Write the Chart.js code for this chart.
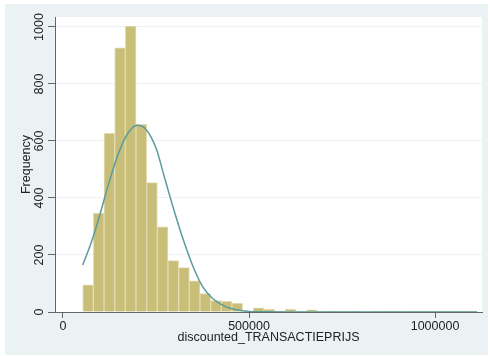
<!DOCTYPE html>
<html>
<head>
<meta charset="utf-8">
<script src="https://cdn.jsdelivr.net/npm/chart.js@4.4.0/dist/chart.umd.min.js"></script>
<style>
  html, body { margin: 0; padding: 0; background: #fff; }
  #wrap { width: 490px; height: 356px; }
</style>
</head>
<body>
<div id="wrap"><canvas id="hist" width="490" height="356"></canvas></div>
<script>
// Histogram bins (counts)
const binStart = 53000;
const binWidth = 28650;
const binCounts = [95, 347, 627, 927, 1003, 658, 454, 299, 180, 156, 109, 65, 40, 37, 30,
  3, 15, 9, 3, 9, 2, 8, 2, 1, 2, 1, 0, 1, 1, 1, 1, 3, 1, 3, 1, 3, 3];

// Normal density overlay, heights read at these prices
const curveX = [53000, 75000, 100000, 125000, 150000, 175000, 200000, 225000, 250000, 275000,
  300000, 325000, 350000, 375000, 400000, 425000, 450000, 475000, 500000, 550000,
  600000, 700000, 800000, 900000, 1000000, 1113000];
const curveY = [165, 240, 345, 460, 560, 628, 655, 638, 575, 462,
  350, 247, 158, 90, 50, 27, 13, 6, 2, 0.5,
  0, 0, 0, 0, 0, 0];

const xTicks = [0, 500000, 1000000];
const yTicks = [0, 200, 400, 600, 800, 1000];
const xTitle = 'discounted_TRANSACTIEPRIJS';
const yTitle = 'Frequency';

const colors = {
  outer: '#eaf2f3',
  plot: '#ffffff',
  bar: 'rgb(200,190,120)',
  barEdge: '#e3dcb0',
  curve: '#5c9c9a',
  axis: '#666666',
  grid: '#edf3f4',
  text: '#222222'
};
const font = { family: "'Liberation Sans', Arial, sans-serif", size: 12.5 };

const barData = binCounts.map((c, i) => ({ x: binStart + binWidth * (i + 0.5), y: c }));
const curveData = curveX.map((x, i) => ({ x: x, y: curveY[i] }));

// Stata-style backdrop: light graph region, white plot region
const backdrop = {
  id: 'backdrop',
  beforeDraw(chart) {
    const ctx = chart.ctx;
    const a = chart.chartArea;
    ctx.save();
    ctx.fillStyle = '#ffffff';
    ctx.fillRect(0, 0, chart.width, chart.height);
    ctx.fillStyle = colors.outer;
    ctx.fillRect(5, 4, 483, 351);
    ctx.fillStyle = colors.plot;
    ctx.fillRect(a.left, a.top, a.right - a.left, a.bottom - a.top);
    ctx.restore();
  }
};

new Chart(document.getElementById('hist'), {
  type: 'bar',
  data: {
    datasets: [
      {
        type: 'line',
        data: curveData,
        borderColor: colors.curve,
        borderWidth: 1.5,
        pointRadius: 0,
        cubicInterpolationMode: 'monotone',
        fill: false,
        order: 0
      },
      {
        data: barData,
        backgroundColor: colors.bar,
        borderColor: colors.barEdge,
        borderWidth: 1,
        barPercentage: 1,
        categoryPercentage: 1,
        order: 1
      }
    ]
  },
  options: {
    responsive: false,
    animation: false,
    layout: { padding: { top: 17, right: 8, left: 0, bottom: 0 } },
    plugins: {
      legend: { display: false },
      tooltip: { enabled: false }
    },
    scales: {
      x: {
        type: 'linear',
        offset: false,
        min: -21500,
        max: 1126300,
        afterBuildTicks: (s) => { s.ticks = xTicks.map(v => ({ value: v })); },
        afterFit: (s) => { s.height = 44; },
        grid: { display: true, offset: false, drawOnChartArea: false, tickLength: 6, tickColor: colors.axis },
        border: { display: true, color: colors.axis, width: 1 },
        ticks: { color: colors.text, font: font, padding: 1, maxRotation: 0, autoSkip: false,
          callback: (v) => String(v) },
        title: { display: true, text: xTitle, color: colors.text, font: font,
          padding: { top: 0, bottom: 11 } }
      },
      y: {
        min: 0,
        max: 1035,
        afterBuildTicks: (s) => { s.ticks = yTicks.map(v => ({ value: v })); },
        afterFit: (s) => { s.width = 55; },
        grid: { color: colors.grid, tickLength: 7, tickColor: colors.axis },
        border: { display: true, color: colors.axis, width: 1 },
        ticks: { color: colors.text, font: font, minRotation: 90, maxRotation: 90,
          crossAlign: 'center', padding: -5, autoSkip: false,
          callback: (v) => String(v) },
        title: { display: true, text: yTitle, color: colors.text, font: font,
          padding: { top: 19, bottom: 0 } }
      }
    }
  },
  plugins: [backdrop]
});
</script>
</body>
</html>
